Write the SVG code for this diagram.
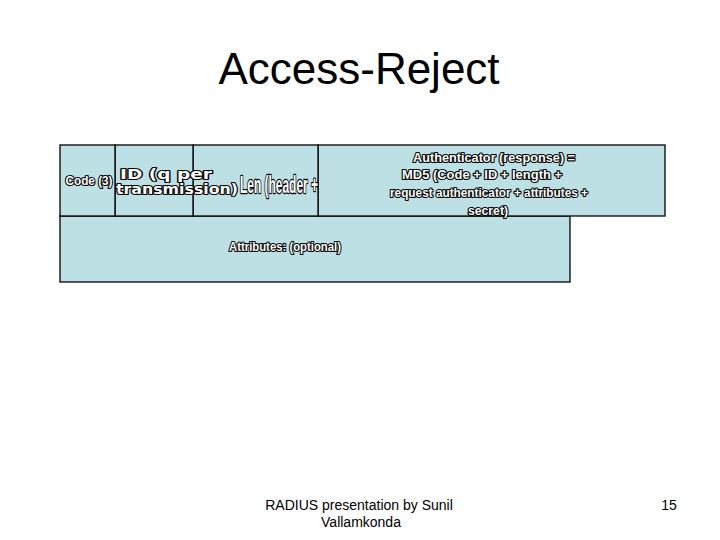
<svg xmlns="http://www.w3.org/2000/svg" width="720" height="540" viewBox="0 0 720 540">
<style>
.box{fill:#BCE0E4;stroke:#000;stroke-width:1.3}
.ot{fill:#fff;stroke:#000;stroke-width:2.2;paint-order:stroke;font-family:"Liberation Sans",Arial,sans-serif;font-weight:bold;font-size:12px;text-anchor:middle;stroke-linejoin:round}
.wide{font-family:"DejaVu Sans",Verdana,sans-serif;font-size:13.5px}
.plain{font-family:"Liberation Sans",Arial,sans-serif;fill:#000;text-anchor:middle}
</style>
<rect width="720" height="540" fill="#fff"/>
<text class="plain" x="359" y="84" font-size="44">Access-Reject</text>
<g id="attrs"><rect class="box" x="60" y="216" width="510" height="66"/><text class="ot" x="285" y="251" textLength="112" lengthAdjust="spacingAndGlyphs">Attributes: (optional)</text></g>
<g id="auth"><rect class="box" x="318" y="145" width="347" height="71"/>
<text class="ot" x="494" y="162" textLength="162" lengthAdjust="spacingAndGlyphs">Authenticator (response) =</text>
<text class="ot" x="482" y="179" textLength="160" lengthAdjust="spacingAndGlyphs">MD5 (Code + ID + length +</text>
<text class="ot" x="489" y="197" textLength="198" lengthAdjust="spacingAndGlyphs">request authenticator + attributes +</text>
<text class="ot" x="488" y="215" textLength="40" lengthAdjust="spacingAndGlyphs">secret)</text></g>
<g id="len"><rect class="box" x="193" y="145" width="125" height="71"/><text class="ot" x="279" y="193" style="font-size:24px;stroke-width:2.6" textLength="78" lengthAdjust="spacingAndGlyphs">Len (header +</text></g>
<g id="id"><rect class="box" x="115" y="145" width="78" height="71"/><text class="ot wide" x="166" y="179" textLength="92" lengthAdjust="spacingAndGlyphs">ID (q per</text><text class="ot wide" x="177" y="194" textLength="122" lengthAdjust="spacingAndGlyphs">transmission)</text></g>
<g id="code"><rect class="box" x="60" y="145" width="55" height="71"/><text class="ot" x="89" y="185" textLength="47" lengthAdjust="spacingAndGlyphs">Code (3)</text></g>
<text class="plain" x="359" y="510" font-size="14">RADIUS presentation by Sunil</text>
<text class="plain" x="361" y="527" font-size="14">Vallamkonda</text>
<text class="plain" x="669" y="510" font-size="14">15</text>
</svg>
